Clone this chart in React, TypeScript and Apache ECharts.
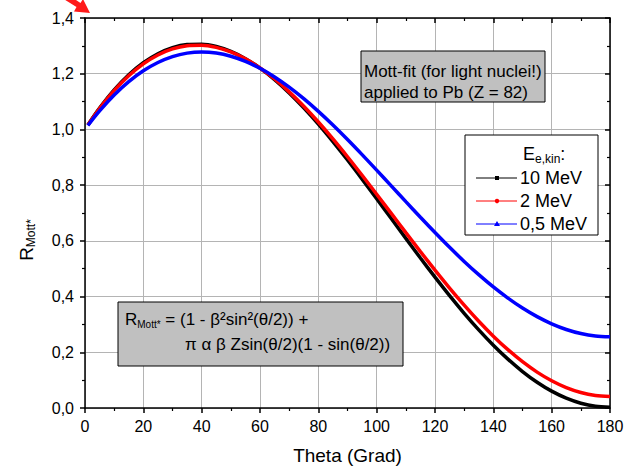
import React, { useEffect, useRef } from "react";
import * as echarts from "echarts";

const theta = [1, 5, 10, 15, 20, 25, 30, 35, 40, 45, 50, 55, 60, 65, 70, 75, 80, 85, 90, 95, 100, 105, 110, 115, 120, 125, 130, 135, 140, 145, 150, 155, 160, 165, 170, 175, 180];

const r10MeV = [1.0162, 1.0765, 1.1418, 1.1962, 1.2394, 1.2718, 1.2935, 1.3047, 1.306, 1.2976, 1.2801, 1.2541, 1.2201, 1.1789, 1.1312, 1.0776, 1.0191, 0.9563, 0.8902, 0.8215, 0.7512, 0.68, 0.6088, 0.5384, 0.4697, 0.4033, 0.34, 0.2805, 0.2255, 0.1755, 0.131, 0.0926, 0.0605, 0.0353, 0.0171, 0.006, 0.0024];

const r2MeV = [1.0159, 1.075, 1.1392, 1.1926, 1.2353, 1.2673, 1.289, 1.3005, 1.3022, 1.2945, 1.278, 1.2532, 1.2206, 1.181, 1.1349, 1.0832, 1.0267, 0.966, 0.902, 0.8355, 0.7674, 0.6985, 0.6295, 0.5613, 0.4947, 0.4303, 0.369, 0.3113, 0.2579, 0.2094, 0.1662, 0.1289, 0.0979, 0.0734, 0.0557, 0.045, 0.0414];

const r05MeV = [1.014, 1.0663, 1.1234, 1.1715, 1.2104, 1.2403, 1.2614, 1.2739, 1.278, 1.2743, 1.2629, 1.2445, 1.2195, 1.1884, 1.1519, 1.1105, 1.0649, 1.0158, 0.9638, 0.9096, 0.8539, 0.7974, 0.7408, 0.6847, 0.6299, 0.5768, 0.5262, 0.4786, 0.4345, 0.3945, 0.3588, 0.3279, 0.3022, 0.2819, 0.2673, 0.2584, 0.2555];

const seriesNames = ["10 MeV", "2 MeV", "0,5 MeV"];
const seriesColors = ["#000000", "#ff0000", "#0000ff"];
const seriesValues = [r10MeV, r2MeV, r05MeV];

const FONT = "Liberation Sans, Arial, sans-serif";

export default function App() {
  const ref = useRef<HTMLDivElement>(null);

  useEffect(() => {
    if (!ref.current) return;
    const chart = echarts.init(ref.current, null, { renderer: "svg" });

    const gridLine = { show: true, lineStyle: { color: "#b4b4b4", width: 1 } };
    const axisLine = { show: true, onZero: false, lineStyle: { color: "#000", width: 1.5 } };

    const legendItems: any[] = [];
    const legendY = [178, 201, 224];
    seriesNames.forEach((name, i) => {
      const y = legendY[i];
      legendItems.push({
        type: "line",
        z: 12,
        shape: { x1: 476, y1: y, x2: 517, y2: y },
        style: { stroke: seriesColors[i], lineWidth: 1 },
      });
      if (i === 0) {
        legendItems.push({ type: "rect", z: 13, shape: { x: 495, y: y - 2, width: 4, height: 4 }, style: { fill: "#000" } });
      } else if (i === 1) {
        legendItems.push({ type: "circle", z: 13, shape: { cx: 497, cy: y, r: 2.2 }, style: { fill: "#f00" } });
      } else {
        legendItems.push({ type: "polygon", z: 13, shape: { points: [[497, y - 3], [494, y + 2], [500, y + 2]] }, style: { fill: "#00f" } });
      }
      legendItems.push({
        type: "text",
        z: 13,
        x: 520,
        y: y,
        style: { text: name, font: `18px ${FONT}`, fill: "#000", verticalAlign: "middle", align: "left" },
      });
    });

    const option: any = {
      animation: false,
      backgroundColor: "#fff",
      grid: { left: 85, right: 17, top: 18, bottom: 64, containLabel: false },
      xAxis: [
        {
          type: "value",
          min: 0,
          max: 180,
          interval: 20,
          position: "bottom",
          axisLine,
          axisTick: { show: true, inside: false, length: 5, lineStyle: { color: "#000", width: 1.5 } },
          minorTick: { show: true, splitNumber: 2, length: 3, lineStyle: { color: "#000", width: 1.2 } },
          splitLine: gridLine,
          axisLabel: { color: "#000", fontSize: 16, fontFamily: FONT, margin: 10 },
          name: "Theta (Grad)",
          nameLocation: "middle",
          nameGap: 38,
          nameTextStyle: { color: "#000", fontSize: 19, fontFamily: FONT },
        },
        {
          type: "value",
          min: 0,
          max: 180,
          interval: 20,
          position: "top",
          axisLine,
          axisTick: { show: true, inside: true, length: 5, lineStyle: { color: "#000", width: 1.5 } },
          minorTick: { show: true, splitNumber: 2, length: 3, lineStyle: { color: "#000", width: 1.2 } },
          splitLine: { show: false },
          axisLabel: { show: false },
        },
      ],
      yAxis: [
        {
          type: "value",
          min: 0,
          max: 1.4,
          interval: 0.2,
          position: "left",
          axisLine,
          axisTick: { show: true, inside: false, length: 5, lineStyle: { color: "#000", width: 1.5 } },
          minorTick: { show: true, splitNumber: 2, length: 3, lineStyle: { color: "#000", width: 1.2 } },
          splitLine: gridLine,
          axisLabel: {
            color: "#000",
            fontSize: 16,
            fontFamily: FONT,
            margin: 11,
            formatter: (v: number) => v.toFixed(1).replace(".", ","),
          },
        },
        {
          type: "value",
          min: 0,
          max: 1.4,
          interval: 0.2,
          position: "right",
          axisLine,
          axisTick: { show: true, inside: true, length: 5, lineStyle: { color: "#000", width: 1.5 } },
          minorTick: { show: true, splitNumber: 2, length: 3, lineStyle: { color: "#000", width: 1.2 } },
          splitLine: { show: false },
          axisLabel: { show: false },
        },
      ],
      series: seriesNames.map((name, i) => ({
        name,
        type: "line",
        xAxisIndex: 0,
        yAxisIndex: 0,
        data: theta.map((t, j) => [t, seriesValues[i][j]]),
        smooth: 0.3,
        showSymbol: false,
        symbol: "none",
        lineStyle: { color: seriesColors[i], width: 3.5 },
        itemStyle: { color: seriesColors[i] },
        z: 3 + i,
      })),
      graphic: [
        // y axis title
        {
          type: "text",
          x: 26,
          y: 240,
          rotation: Math.PI / 2,
          style: {
            text: "{r|R}{s|Mott*}",
            align: "center",
            verticalAlign: "middle",
            fill: "#000",
            rich: {
              r: { fontSize: 19, fontFamily: FONT, lineHeight: 22, verticalAlign: "middle" },
              s: { fontSize: 12, fontFamily: FONT, lineHeight: 13, padding: [12, 0, 0, 0], verticalAlign: "bottom" },
            },
          },
        },
        // Mott-fit box
        {
          type: "rect",
          shape: { x: 361, y: 51, width: 184, height: 51 },
          style: { fill: "#c0c0c0", stroke: "#000", lineWidth: 1 },
          z: 10,
        },
        {
          type: "text",
          x: 364,
          y: 71,
          style: { text: "Mott-fit (for light nuclei!)", font: `17px ${FONT}`, fill: "#000", verticalAlign: "middle" },
          z: 11,
        },
        {
          type: "text",
          x: 364,
          y: 92,
          style: { text: "applied to Pb (Z = 82)", font: `17px ${FONT}`, fill: "#000", verticalAlign: "middle" },
          z: 11,
        },
        // formula box
        {
          type: "rect",
          shape: { x: 118, y: 302, width: 285, height: 64 },
          style: { fill: "#c0c0c0", stroke: "#000", lineWidth: 1 },
          z: 10,
        },
        {
          type: "text",
          x: 125,
          y: 319,
          style: {
            text: "{r|R}{s|Mott*}{r| = (1 - β²sin²(θ/2)) +}",
            verticalAlign: "middle",
            fill: "#000",
            rich: {
              r: { fontSize: 17, fontFamily: FONT, lineHeight: 20, verticalAlign: "middle" },
              s: { fontSize: 10, fontFamily: FONT, lineHeight: 11, padding: [11, 0, 0, 0], verticalAlign: "bottom" },
            },
          },
          z: 11,
        },
        {
          type: "text",
          x: 185,
          y: 344,
          style: { text: "π α β Zsin(θ/2)(1 - sin(θ/2))", font: `17px ${FONT}`, fill: "#000", verticalAlign: "middle" },
          z: 11,
        },
        // legend
        {
          type: "rect",
          shape: { x: 465, y: 135, width: 133, height: 100 },
          style: { fill: "#fff", stroke: "#000", lineWidth: 1 },
          z: 10,
        },
        {
          type: "text",
          x: 523,
          y: 154,
          style: {
            text: "{r|E}{s|e,kin}{r|:}",
            verticalAlign: "middle",
            fill: "#000",
            rich: {
              r: { fontSize: 18, fontFamily: FONT, lineHeight: 22, verticalAlign: "middle" },
              s: { fontSize: 12, fontFamily: FONT, lineHeight: 13, padding: [11, 0, 0, 0], verticalAlign: "bottom" },
            },
          },
          z: 11,
        },
        ...legendItems,
        // red arrow at top-left
        {
          type: "polygon",
          shape: {
            points: [[54, -7], [76.5, 7], [74, 11.5], [90, 13], [83, -1], [80.5, 3], [58, -12]],
          },
          style: { fill: "#ff1a1a" },
          z: 20,
        },
      ],
    };

    chart.setOption(option);
    return () => chart.dispose();
  }, []);

  return <div ref={ref} style={{ position: "fixed", left: 0, top: 0, width: 627, height: 472 }} />;
}
